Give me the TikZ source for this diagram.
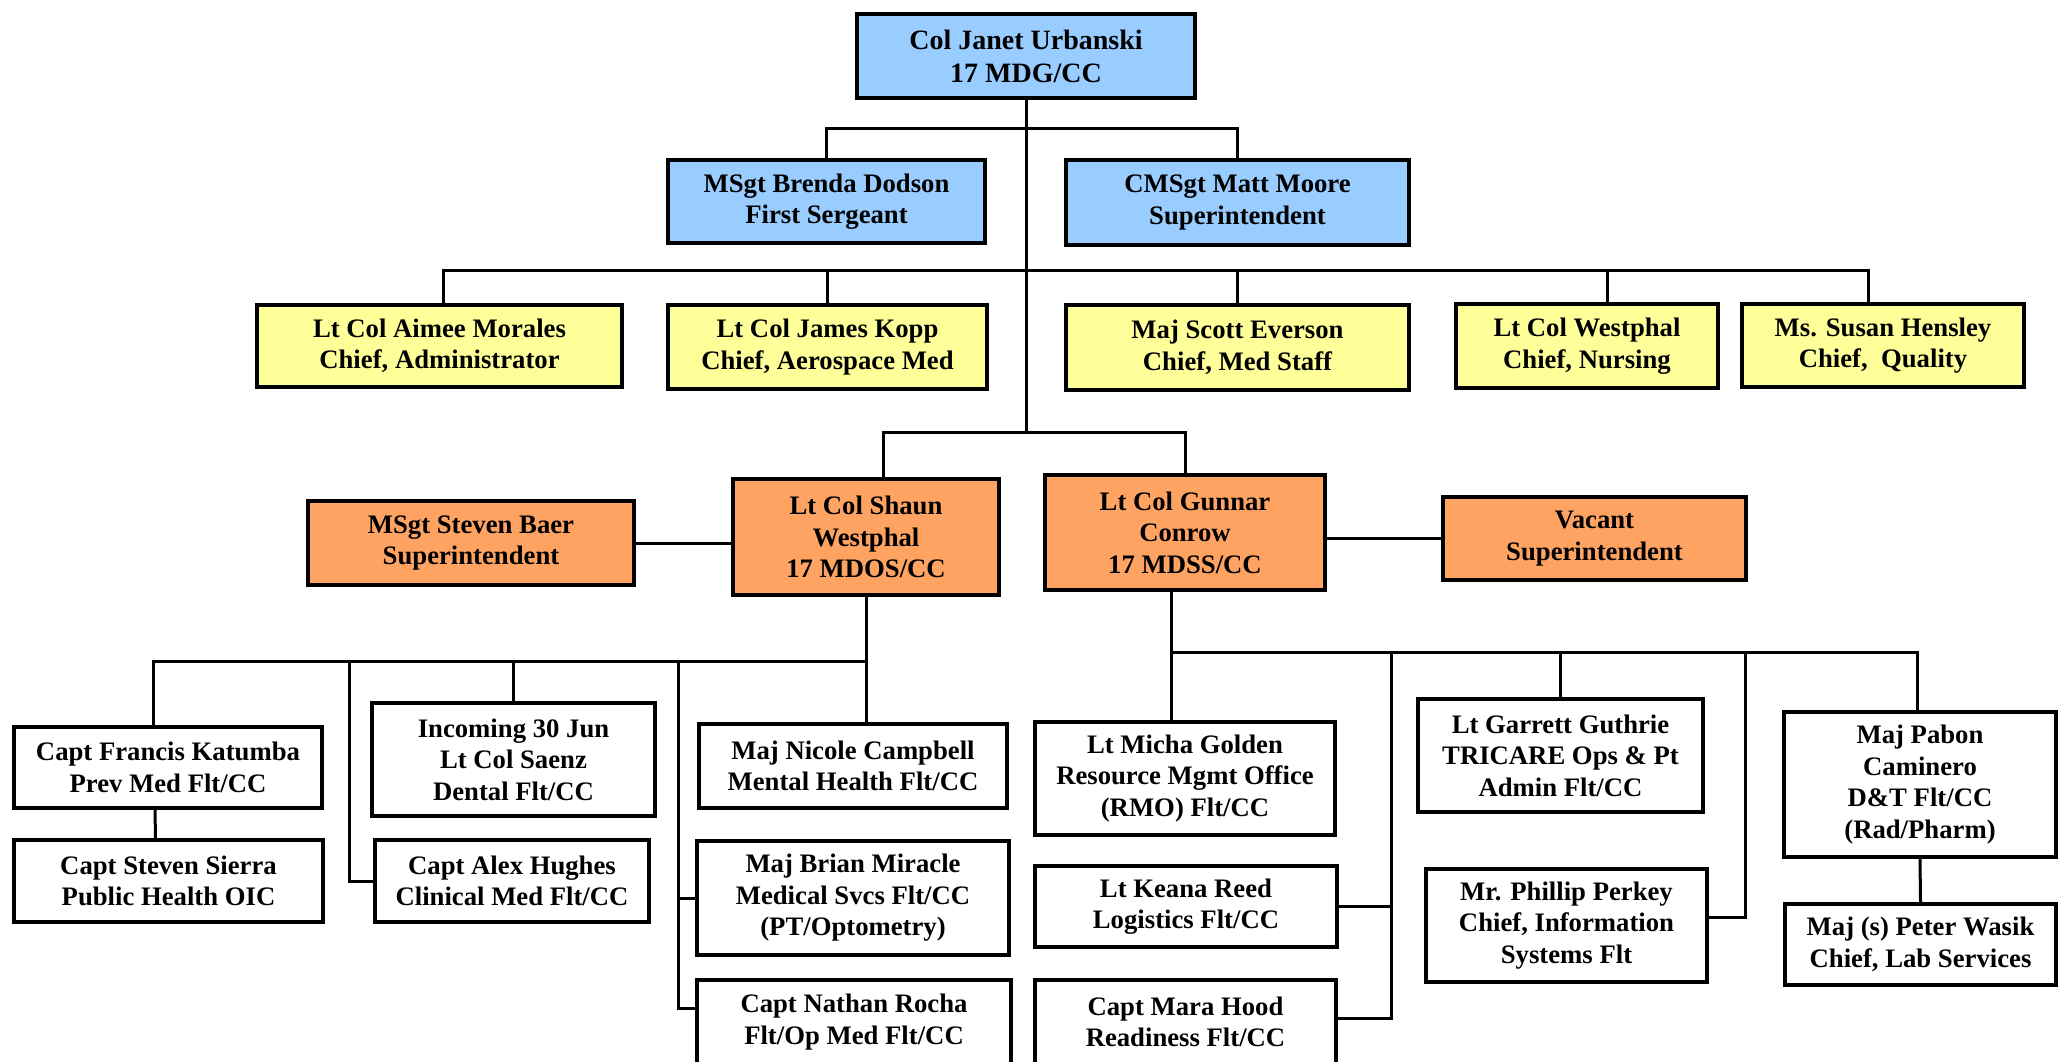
\documentclass[tikz,border=0pt]{standalone}
\usepackage{fontspec}
\setmainfont{Liberation Serif}
\definecolor{hqblue}{RGB}{153,204,255}
\definecolor{chiefyellow}{RGB}{255,255,153}
\definecolor{sqorange}{RGB}{255,163,99}
\tikzstyle{office}=[draw, line width=4pt, fill=white, align=center, inner sep=0pt, font=\bfseries\fontsize{26.7}{31.5}\selectfont]
\tikzstyle{hq}=[fill=hqblue]
\tikzstyle{chief}=[fill=chiefyellow]
\tikzstyle{sq}=[fill=sqorange]
\tikzstyle{link}=[line width=3pt]
\tikzset{dims/.style 2 args={minimum width=#1pt, minimum height=#2pt}}
\newcommand{\office}{\node[office]}

\begin{document}
\begin{tikzpicture}[x=1pt,y=-1pt]
\useasboundingbox (0,0) rectangle (2062,1061);
% group and staff
\office[hq, dims={338}{84}, font=\bfseries\fontsize{28}{33}\selectfont] (mdg) at (1026,56) {Col Janet Urbanski\\17 MDG/CC};
\office[hq, dims={317}{83}] (fs) at (826.5,201.5) {MSgt Brenda Dodson\\First Sergeant};
\office[hq, dims={343}{85}] (sup) at (1237.5,202.5) {CMSgt Matt Moore\\Superintendent};
\office[chief, dims={365}{82}] (admin) at (439.5,346) {Lt Col Aimee Morales\\Chief, Administrator};
\office[chief, dims={319}{84}] (aero) at (827.5,347) {Lt Col James Kopp\\Chief, Aerospace Med};
\office[chief, dims={343}{85}] (medstaff) at (1237.5,347.5) {Maj Scott Everson\\Chief, Med Staff};
\office[chief, dims={262}{84}] (nursing) at (1587,346) {Lt Col Westphal\\Chief, Nursing};
\office[chief, dims={282}{83}] (quality) at (1883,345.5) {Ms. Susan Hensley\\Chief,~ Quality};
% squadrons
\office[sq, dims={266}{116}] (mdos) at (866,537) {Lt Col Shaun\\Westphal\\17 MDOS/CC};
\office[sq, dims={280}{115}] (mdss) at (1185,532.5) {Lt Col Gunnar\\Conrow\\17 MDSS/CC};
\office[sq, dims={326}{84}] (baer) at (471,543) {MSgt Steven Baer\\Superintendent};
\office[sq, dims={303}{83}] (vacant) at (1594.5,538.5) {Vacant\\Superintendent};
% MDOS flights
\office[dims={308}{81}] (katumba) at (168,767.5) {Capt Francis Katumba\\Prev Med Flt/CC};
\office[dims={309}{82}] (sierra) at (168.5,881) {Capt Steven Sierra\\Public Health OIC};
\office[dims={283}{113}] (dental) at (513.5,759.5) {Incoming 30 Jun\\Lt Col Saenz\\Dental Flt/CC};
\office[dims={274}{82}] (hughes) at (512,881) {Capt Alex Hughes\\Clinical Med Flt/CC};
\office[dims={308}{84}] (mental) at (853,766) {Maj Nicole Campbell\\Mental Health Flt/CC};
\office[dims={312}{114}] (medsvcs) at (853,898) {Maj Brian Miracle\\Medical Svcs Flt/CC\\(PT/Optometry)};
\office[dims={314}{84}] (opmed) at (854,1022) {Capt Nathan Rocha\\Flt/Op Med Flt/CC};
% MDSS flights
\office[dims={300}{113}] (rmo) at (1185,778.5) {Lt Micha Golden\\Resource Mgmt Office\\(RMO) Flt/CC};
\office[dims={302}{81}] (logistics) at (1186,906.5) {Lt Keana Reed\\Logistics Flt/CC};
\office[dims={301}{84}] (readiness) at (1185.5,1022) {Capt Mara Hood\\Readiness Flt/CC};
\office[dims={285}{113}] (tricare) at (1560.5,755.5) {Lt Garrett Guthrie\\TRICARE Ops \& Pt\\Admin Flt/CC};
\office[dims={281}{113}] (infosys) at (1566.5,925.5) {Mr. Phillip Perkey\\Chief, Information\\Systems Flt};
\office[dims={272}{145}] (dt) at (1920,784.5) {Maj Pabon\\Caminero\\D\&T Flt/CC\\(Rad/Pharm)};
\office[dims={271}{81}] (lab) at (1920.5,944.5) {Maj (s) Peter Wasik\\Chief, Lab Services};

% top of the chart
\coordinate (hub) at (1026,432);
\draw[link] (mdg.south) -- (hub);
\draw[link] (fs.north) -- ++(0,-30) -| (sup.north);
\draw[link] ([xshift=4pt]admin.north) -- ++(0,-33) -| ([xshift=-15pt]quality.north);
\foreach \n in {aero,medstaff}
	\draw[link] (\n.north) -- ++(0,-33);
\draw[link] ([xshift=20pt]nursing.north) -- ++(0,-32);
\draw[link] ([xshift=17pt]mdos.north) |- (hub) -| (mdss.north);
\draw[link] (baer.east) -- (baer.east -| mdos.west);
\draw[link] (mdss.east |- vacant.west) -- (vacant.west);

% MDOS
\coordinate (osline) at (0,661);
\coordinate (osleft) at (349,661);
\coordinate (osright) at (678,661);
\draw[link] (mdos.south) -- (mdos.south |- mental.north);
\draw[link] ([xshift=-15pt]katumba.north) |- (mdos.south |- osline);
\draw[link] (dental.north) -- (dental.north |- osline);
\draw[link] (hughes.west) -| (osleft);
\draw[link] (medsvcs.west) -| (osright);
\draw[link] ([yshift=14pt]opmed.west) -| (osright);
\draw[link] ([xshift=-13pt]katumba.south) -- ([xshift=-13pt]sierra.north);

% MDSS
\coordinate (ssline) at (0,652);
\coordinate (ssleft) at (1391,652);
\coordinate (ssright) at (1745,652);
\draw[link] ([xshift=-14pt]mdss.south) -- ([xshift=-14pt]mdss.south |- rmo.north);
\draw[link] ([xshift=-14pt]mdss.south |- ssline) -| ([xshift=-3pt]dt.north);
\draw[link] (tricare.north) -- (tricare.north |- ssline);
\draw[link] (logistics.east) -| (ssleft);
\draw[link] ([yshift=4pt]readiness.east) -| (ssleft);
\draw[link] ([yshift=8pt]infosys.east) -| (ssright);
\draw[link] (dt.south) -- (lab.north);
\end{tikzpicture}
\end{document}
